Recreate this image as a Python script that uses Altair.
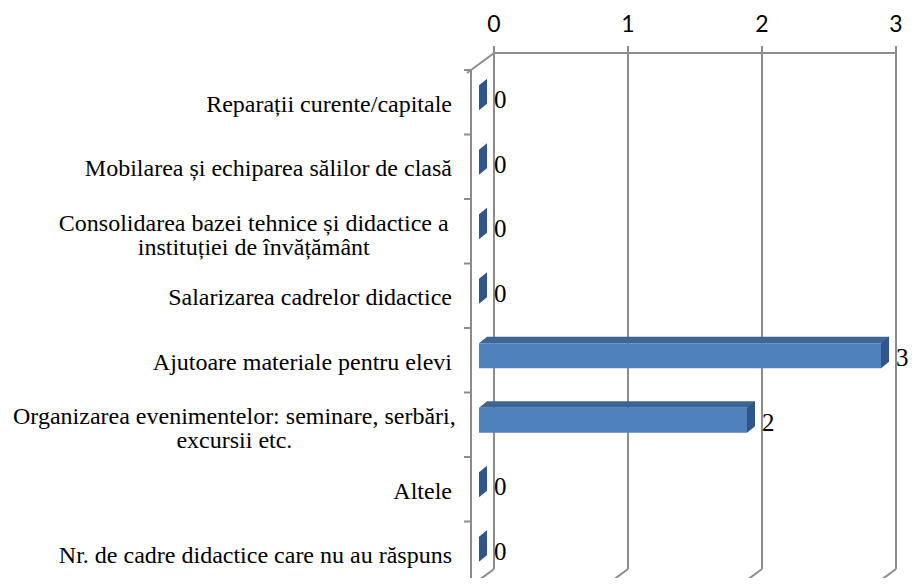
import altair as alt
import pandas as pd

# ---- data ----
categories = [
    "Reparații curente/capitale",
    "Mobilarea și echiparea sălilor de clasă",
    "Consolidarea bazei tehnice și didactice a\ninstituției de învățământ",
    "Salarizarea cadrelor didactice",
    "Ajutoare materiale pentru elevi",
    "Organizarea evenimentelor: seminare, serbări,\nexcursii etc.",
    "Altele",
    "Nr. de cadre didactice care nu au răspuns",
]
values = [0, 0, 0, 0, 3, 2, 0, 0]
tick_values = [0, 1, 2, 3]

df = pd.DataFrame({
    "cat": categories,
    "val": values,
    "multi": ["\n" in c for c in categories],
    "maxlen": [max(len(s) for s in c.split("\n")) for c in categories],
})
ticks_df = pd.DataFrame({"t": tick_values})

# ---- styling ----
W, H = 402, 516
PAD_L, PAD_T = 486, 45
GRAY = "#8c8c8c"
LW = 2
DX, DY = -23, 17          # depth of the 3-D box (front = back + (DX, DY))
FRONT = "#4F81BD"
TOP = "#3D6696"
END = "#30558A"
SERIF = "Liberation Serif"
CAT_FS = 24

xs = alt.Scale(domain=[0, 3], nice=False, zero=True)
ys = alt.Scale(type="band", domain=categories, paddingInner=0, paddingOuter=0)
XT = alt.X("t:Q", scale=xs, axis=None)
Y = alt.Y("cat:N", scale=ys, axis=None)

# top axis (drawn by hand)
axis_domain = alt.Chart(ticks_df).transform_aggregate(
    lo="min(t)", hi="max(t)").mark_rule(color=GRAY, strokeWidth=LW).encode(
    x=alt.X("lo:Q", scale=xs, axis=None), x2="hi:Q", y=alt.value(0))

axis_ticks = alt.Chart(ticks_df).mark_rule(color=GRAY, strokeWidth=LW).encode(
    x=XT, y=alt.value(-7), y2=alt.value(0))

axis_labels = alt.Chart(ticks_df).mark_text(
    font="Lato", fontSize=23, align="center", baseline="alphabetic",
    color="black").encode(x=XT, y=alt.value(-21), text="t:Q")

grid = alt.Chart(ticks_df).mark_rule(color=GRAY, strokeWidth=LW).encode(
    x=XT, y=alt.value(0), y2=alt.value(H))

floor = alt.Chart(ticks_df).mark_rule(color=GRAY, strokeWidth=LW, x2Offset=DX).encode(
    x=XT, x2="t:Q", y=alt.value(H), y2=alt.value(H + DY))

wall = alt.Chart(ticks_df).transform_filter("datum.t == 0").mark_rule(
    color=GRAY, strokeWidth=LW, xOffset=DX).encode(
    x=XT, y=alt.value(DY), y2=alt.value(H + DY))

top_slant = alt.Chart(ticks_df).transform_filter("datum.t == 0").mark_rule(
    color=GRAY, strokeWidth=LW, x2Offset=DX - 4).encode(
    x=XT, x2="t:Q", y=alt.value(0), y2=alt.value(DY + 3))

left_ticks = alt.Chart(df).mark_rule(
    color=GRAY, strokeWidth=LW, xOffset=DX, x2Offset=DX - 7, yOffset=DY).encode(
    x=alt.X(datum=0, scale=xs, axis=None), x2=alt.X2(datum=0),
    y=alt.Y("cat:N", scale=ys, axis=None, bandPosition=0))

bars = alt.Chart(df).transform_filter("datum.val > 0")

front = bars.mark_bar(color=FRONT, size=25, xOffset=-15, x2Offset=-15, yOffset=12.5).encode(
    x=alt.X("val:Q", scale=xs, axis=None), y=Y)

topface = bars.mark_bar(color=TOP, size=6.5, xOffset=-7, x2Offset=-7, yOffset=-3.25).encode(
    x=alt.X("val:Q", scale=xs, axis=None), y=Y)

left_tri = bars.mark_point(
    shape="M-1,0.8125L1,0.8125L1,-0.8125Z", size=64, filled=True, color=TOP,
    opacity=1, strokeWidth=0, xOffset=-11, yOffset=-3.25).encode(
    x=alt.X(datum=0, scale=xs, axis=None), y=Y)

endface = alt.Chart(df).mark_point(
    shape="M-0.254,1L-0.254,-0.587L0.254,-1L0.254,0.587Z", size=992, filled=True,
    color=END, opacity=1, strokeWidth=0, xOffset=-11, yOffset=9.25).encode(
    x=alt.X("val:Q", scale=xs, axis=None), y=Y)

val_labels = alt.Chart(df).mark_text(
    align="left", baseline="middle", font=SERIF, fontSize=25, dx=0, yOffset=15,
    color="black").encode(
    x=alt.X("val:Q", scale=xs, axis=None), y=Y, text="val:Q")

cat_single = alt.Chart(df).transform_filter("!datum.multi").mark_text(
    align="right", baseline="middle", font=SERIF, fontSize=CAT_FS, yOffset=19.5,
    color="black").encode(x=alt.value(-42), y=Y, text="cat:N")

cat_multi = alt.Chart(df).transform_filter("datum.multi").transform_calculate(
    xo=f"-0.5 * 0.403 * {CAT_FS} * datum.maxlen").mark_text(
    align="center", baseline="middle", font=SERIF, fontSize=CAT_FS, lineBreak="\n",
    lineHeight=24, yOffset=9.25, color="black").encode(
    x=alt.value(-42), xOffset=alt.XOffset("xo:Q", scale=None), y=Y, text="cat:N")

chart = alt.layer(
    grid, floor, wall, top_slant, left_ticks, axis_domain, axis_ticks, axis_labels,
    topface, left_tri, front, endface, val_labels, cat_single, cat_multi,
).properties(
    width=W, height=H,
    autosize=alt.AutoSizeParams(type="none"),
    padding={"left": PAD_L, "top": PAD_T, "right": 901 - PAD_L - W, "bottom": 570 - PAD_T - H},
).configure_view(stroke=None)

chart.save("out.html", embed_options={"renderer": "svg", "actions": False})
